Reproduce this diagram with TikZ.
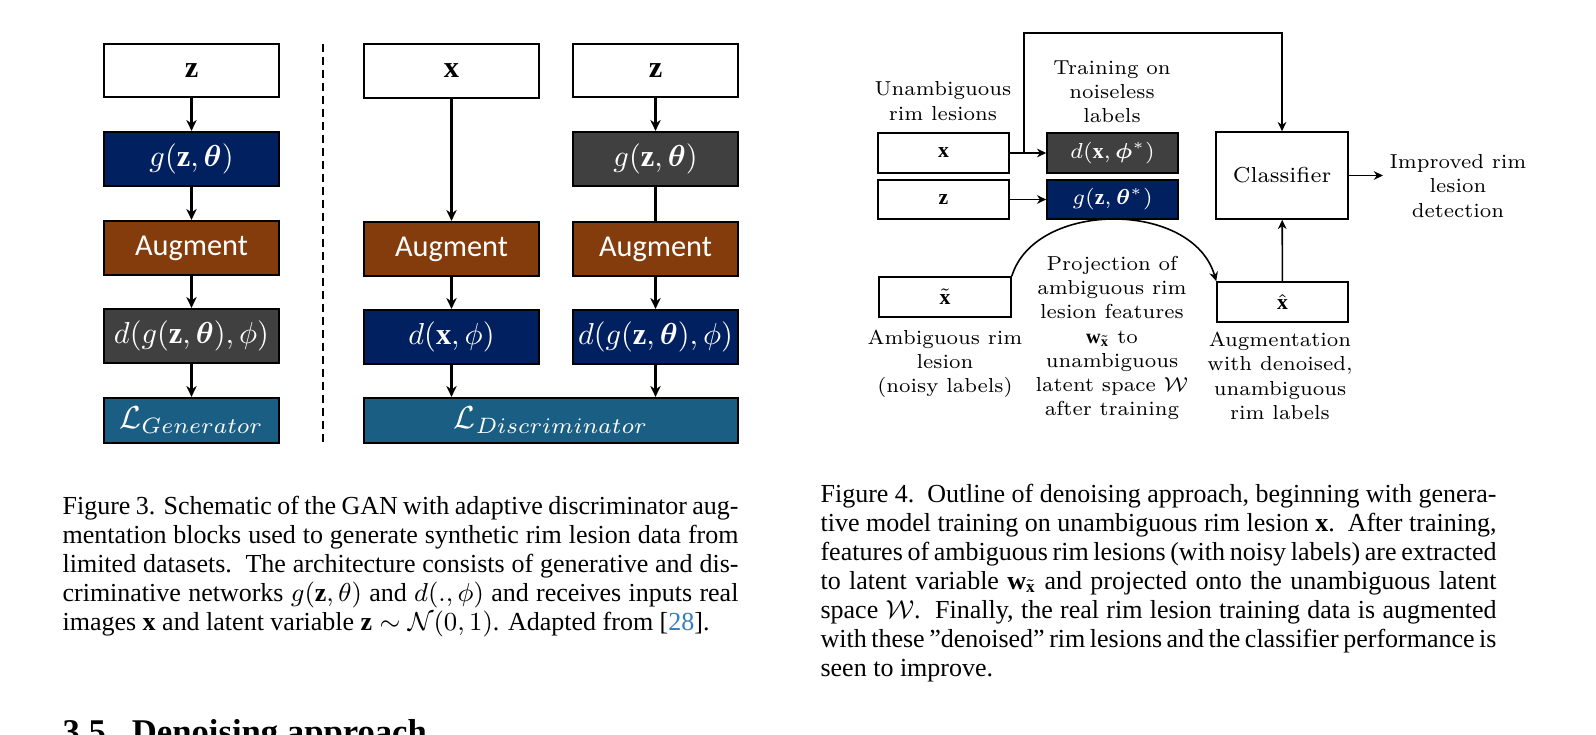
\RequirePackage{fix-cm}
\documentclass[tikz,border=0pt]{standalone}
\usepackage{amsmath,bm}
\usepackage{fontspec}
\setmainfont{Liberation Serif}
\newfontfamily\boxsans{Carlito}
\newfontfamily\labserif{Latin Modern Roman}
\usetikzlibrary{arrows.meta}
\definecolor{navyc}{HTML}{002060}
\definecolor{brownc}{HTML}{843C0C}
\definecolor{grayc}{HTML}{404040}
\definecolor{tealc}{HTML}{1A5E84}
\definecolor{citec}{rgb}{0.21,0.49,0.74}
\newcommand\pxbox[7]{\node[#6, minimum width={(#4-#2)*0.3462pt}, minimum height={(#5-#3)*0.3462pt}] (#1) at ({(#2+#4)/2},{(#3+#5)/2}) {#7};}
\newcommand\capline[1]{\makebox[234pt][s]{#1}}
\tikzset{
  fboxst/.style={draw=black, line width=0.75pt, inner sep=0pt, text=white, font=\fontsize{10.5}{12}\selectfont},
  wbox/.style={fboxst, fill=white, text=black},
  navybox/.style={fboxst, fill=navyc},
  graybox/.style={fboxst, fill=grayc},
  brbox/.style={fboxst, fill=brownc, font=\boxsans\fontsize{10.5}{12}\selectfont},
  tealbox/.style={fboxst, fill=tealc, font=\fontsize{11}{12}\selectfont},
  sbox/.style={draw=black, line width=0.55pt, inner sep=0pt, fill=white, font=\labserif\fontsize{7.5}{9}\selectfont},
  snavy/.style={sbox, fill=navyc, text=white},
  sgray/.style={sbox, fill=grayc, text=white},
  arr/.style={-{Stealth[length=3.2pt,width=3pt]}, line width=0.55pt},
  bigarr/.style={-{Stealth[length=3.8pt,width=3.6pt]}, line width=0.7pt},
  plainln/.style={line width=0.7pt},
  lab/.style={align=center, inner sep=0pt, font=\labserif\fontsize{7}{8.4}\selectfont},
  captext/.style={anchor=base west, inner sep=0pt, font=\fontsize{9}{10}\selectfont},
}
\begin{document}
\begin{tikzpicture}[x=0.3462pt,y=-0.3462pt]
\useasboundingbox (0,0) rectangle (1596,735);
\clip (0,0) rectangle (1596,735);
\fill[white] (0,0) rectangle (1596,735);
% ---------------- Figure 3 ----------------
\pxbox{gz}{104}{44}{279}{97}{wbox}{$\mathbf{z}$}
\pxbox{gg}{104}{132}{279}{186}{navybox}{$g(\mathbf{z},\bm{\theta})$}
\pxbox{ga}{104}{221}{279}{275}{brbox}{Augment}
\pxbox{gd}{104}{309}{279}{363}{graybox}{$d(g(\mathbf{z},\bm{\theta}),\phi)$}
\pxbox{gl}{104}{398}{279}{443}{tealbox}{$\mathcal{L}_{Generator}$}
\draw[bigarr] (gz) -- (gg);
\draw[bigarr] (gg) -- (ga);
\draw[bigarr] (ga) -- (gd);
\draw[bigarr] (gd) -- (gl);
\coordinate (dtop) at (323,44);
\coordinate (dbot) at (323,442);
\draw[line width=0.9pt, dash pattern=on 2.8pt off 1.7pt] (dtop) -- (dbot);
\pxbox{dx}{364}{44}{539}{98}{wbox}{$\mathbf{x}$}
\pxbox{dax}{364}{222}{539}{276}{brbox}{Augment}
\pxbox{ddx}{364}{310}{539}{364}{navybox}{$d(\mathbf{x},\phi)$}
\pxbox{dz}{573}{44}{738}{97}{wbox}{$\mathbf{z}$}
\pxbox{dg}{573}{132}{738}{186}{graybox}{$g(\mathbf{z},\bm{\theta})$}
\pxbox{daz}{573}{222}{738}{276}{brbox}{Augment}
\pxbox{ddz}{573}{310}{738}{364}{navybox}{$d(g(\mathbf{z},\bm{\theta}),\phi)$}
\pxbox{dl}{364}{398}{738}{443}{tealbox}{$\mathcal{L}_{Discriminator}$}
\draw[bigarr] (dx) -- (dax);
\draw[bigarr] (dax) -- (ddx);
\draw[bigarr] (ddx.south) -- (ddx.south |- dl.north);
\draw[bigarr] (dz) -- (dg);
\draw[plainln] (dg) -- (daz);
\draw[bigarr] (daz) -- (ddz);
\draw[bigarr] (ddz.south) -- (ddz.south |- dl.north);
% ---------------- Figure 4 ----------------
\pxbox{ux}{878}{133}{1009}{173}{sbox}{$\mathbf{x}$}
\pxbox{uz}{878}{180}{1009}{219}{sbox}{$\mathbf{z}$}
\pxbox{dphi}{1047}{133}{1178}{173}{sgray}{$d(\mathbf{x},\bm{\phi}^{*})$}
\pxbox{gth}{1047}{180}{1178}{219}{snavy}{$g(\mathbf{z},\bm{\theta}^{*})$}
\pxbox{cls}{1216}{132}{1348}{219}{sbox}{Classifier}
\pxbox{xt}{879}{277}{1011}{317}{sbox}{$\tilde{\mathbf{x}}$}
\pxbox{xh}{1217}{282}{1348}{322}{sbox}{$\hat{\mathbf{x}}$}
\node[lab] (l1) at (943,101) {Unambiguous\\rim lesions};
\node[lab] (l2) at (1112,92) {Training on\\noiseless\\labels};
\node[lab] (l3) at (1458,186) {Improved rim\\lesion\\detection};
\node[lab] (l4) at (945,364) {Ambiguous rim\\lesion\\(noisy labels)};
\node[lab] (l5) at (1112,338) {Projection of\\ambiguous rim\\lesion features\\$\mathbf{w}_{\tilde{\mathbf{x}}}$ to\\unambiguous\\latent space $\mathcal{W}$\\after training};
\node[lab] (l6) at (1280,376) {Augmentation\\with denoised,\\unambiguous\\rim labels};
\draw[arr] (ux) -- (dphi);
\coordinate (br) at (1024,153);
\coordinate (topl) at (1024,33);
\draw[arr] (br) -- (topl) -| (cls.north);
\draw[arr] (uz) -- (gth);
\coordinate (clsout) at (1383,175.5);
\draw[arr] (cls.east) -- (clsout);
\draw[arr] (xh) -- (cls);
\draw[arr] (xt.north east) .. controls (1035,200) and (1193,200) .. (xh.north west);
% ---------------- Captions ----------------
\node[captext] (c31) at (62,514) {\capline{Figure 3. Schematic of the GAN with adaptive discriminator aug-}};
\node[captext] (c32) at (62,543) {\capline{mentation blocks used to generate synthetic rim lesion data from}};
\node[captext] (c33) at (62,572) {\capline{limited datasets.\ \ The architecture consists of generative and dis-}};
\node[captext] (c34) at (62,601) {\capline{criminative networks $g(\mathbf{z},\theta)$ and $d(.,\phi)$ and receives inputs real}};
\node[captext] (c35) at (62,630) {images $\mathbf{x}$ and latent variable $\mathbf{z}\sim\mathcal{N}(0,1)$. Adapted from [\textcolor{citec}{28}].};
\node[captext] (c41) at (820,502) {\capline{Figure 4.\ \ Outline of denoising approach, beginning with genera-}};
\node[captext] (c42) at (820,531) {\capline{tive model training on unambiguous rim lesion $\mathbf{x}$.\ \ After training,}};
\node[captext] (c43) at (820,560) {\capline{features of ambiguous rim lesions (with noisy labels) are extracted}};
\node[captext] (c44) at (820,589) {\capline{to latent variable $\mathbf{w}_{\tilde{\mathbf{x}}}$ and projected onto the unambiguous latent}};
\node[captext] (c45) at (820,618) {\capline{space $\mathcal{W}$.\ \ Finally, the real rim lesion training data is augmented}};
\node[captext] (c46) at (820,647) {\capline{with these ”denoised” rim lesions and the classifier performance is}};
\node[captext] (c47) at (820,676) {seen to improve.};
\node[anchor=base west, inner sep=0pt, font=\fontsize{12}{14}\selectfont\bfseries] (h35) at (62,743) {3.5.\ \ Denoising approach};
\end{tikzpicture}
\end{document}
